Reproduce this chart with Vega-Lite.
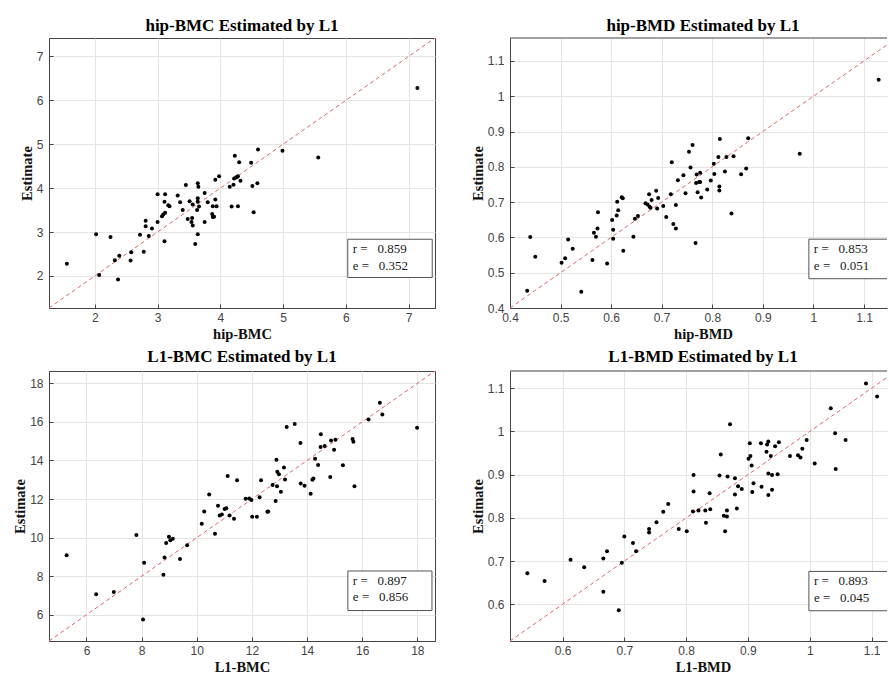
{
  "$schema": "https://vega.github.io/schema/vega-lite/v6.json",
  "padding": {"left": 12, "top": 16, "right": 0, "bottom": 0},
  "columns": 2,
  "spacing": {"column": 34, "row": 6},
  "datasets": {
    "hipBMC": [
      {"x":1.555,"y":2.28},{"x":2.02,"y":2.95},{"x":2.07,"y":2.02},{"x":2.25,"y":2.89},{"x":2.32,"y":2.36},{"x":2.39,"y":2.46},{"x":2.37,"y":1.92},{"x":2.58,"y":2.54},{"x":2.57,"y":2.35},{"x":2.72,"y":2.94},
      {"x":2.78,"y":2.55},{"x":2.81,"y":3.26},{"x":2.81,"y":3.13},{"x":2.86,"y":2.91},{"x":2.91,"y":3.08},{"x":3.0,"y":3.86},{"x":3.0,"y":3.23},{"x":3.07,"y":3.36},{"x":3.09,"y":3.4},{"x":3.11,"y":2.79},
      {"x":3.11,"y":3.69},{"x":3.12,"y":3.86},{"x":3.12,"y":3.44},{"x":3.17,"y":3.61},{"x":3.19,"y":3.59},{"x":3.32,"y":3.83},{"x":3.36,"y":3.68},{"x":3.4,"y":3.5},{"x":3.45,"y":4.07},{"x":3.48,"y":3.3},
      {"x":3.51,"y":3.7},{"x":3.54,"y":3.23},{"x":3.55,"y":3.32},{"x":3.56,"y":3.15},{"x":3.56,"y":3.63},{"x":3.6,"y":2.73},{"x":3.63,"y":3.5},{"x":3.64,"y":4.11},{"x":3.64,"y":3.77},{"x":3.64,"y":3.69},
      {"x":3.64,"y":2.95},{"x":3.65,"y":4.03},{"x":3.66,"y":3.58},{"x":3.75,"y":3.89},{"x":3.75,"y":3.23},{"x":3.8,"y":3.68},{"x":3.87,"y":3.41},{"x":3.88,"y":3.34},{"x":3.88,"y":3.59},{"x":3.9,"y":3.35},
      {"x":3.92,"y":3.74},{"x":3.92,"y":4.19},{"x":3.94,"y":3.59},{"x":3.98,"y":4.27},{"x":4.15,"y":4.03},{"x":4.18,"y":3.58},{"x":4.21,"y":4.08},{"x":4.22,"y":4.22},{"x":4.23,"y":4.74},{"x":4.25,"y":4.24},
      {"x":4.27,"y":4.26},{"x":4.28,"y":4.27},{"x":4.28,"y":3.59},{"x":4.3,"y":4.59},{"x":4.32,"y":4.17},{"x":4.49,"y":4.58},{"x":4.51,"y":4.05},{"x":4.53,"y":3.45},{"x":4.59,"y":4.11},{"x":4.6,"y":4.88},
      {"x":4.99,"y":4.85},{"x":5.56,"y":4.7},{"x":7.14,"y":6.28}
    ],
    "hipBMD": [
      {"x":0.434,"y":0.449},{"x":0.44,"y":0.601},{"x":0.45,"y":0.545},{"x":0.502,"y":0.528},{"x":0.509,"y":0.541},{"x":0.515,"y":0.594},{"x":0.524,"y":0.568},{"x":0.541,"y":0.446},{"x":0.563,"y":0.536},{"x":0.566,"y":0.613},
      {"x":0.57,"y":0.602},{"x":0.573,"y":0.625},{"x":0.574,"y":0.671},{"x":0.592,"y":0.526},{"x":0.602,"y":0.649},{"x":0.604,"y":0.622},{"x":0.604,"y":0.596},{"x":0.611,"y":0.662},{"x":0.612,"y":0.701},{"x":0.614,"y":0.677},
      {"x":0.621,"y":0.714},{"x":0.623,"y":0.711},{"x":0.624,"y":0.562},{"x":0.644,"y":0.602},{"x":0.647,"y":0.653},{"x":0.653,"y":0.661},{"x":0.668,"y":0.697},{"x":0.672,"y":0.693},{"x":0.675,"y":0.722},{"x":0.676,"y":0.687},
      {"x":0.68,"y":0.706},{"x":0.678,"y":0.684},{"x":0.689,"y":0.732},{"x":0.691,"y":0.682},{"x":0.693,"y":0.712},{"x":0.703,"y":0.689},{"x":0.709,"y":0.658},{"x":0.718,"y":0.722},{"x":0.72,"y":0.813},{"x":0.723,"y":0.638},
      {"x":0.728,"y":0.625},{"x":0.728,"y":0.692},{"x":0.732,"y":0.762},{"x":0.743,"y":0.776},{"x":0.747,"y":0.725},{"x":0.754,"y":0.843},{"x":0.757,"y":0.798},{"x":0.761,"y":0.862},{"x":0.767,"y":0.584},{"x":0.768,"y":0.754},
      {"x":0.769,"y":0.778},{"x":0.771,"y":0.728},{"x":0.774,"y":0.757},{"x":0.776,"y":0.757},{"x":0.776,"y":0.783},{"x":0.778,"y":0.713},{"x":0.79,"y":0.736},{"x":0.797,"y":0.761},{"x":0.803,"y":0.809},{"x":0.804,"y":0.78},
      {"x":0.812,"y":0.828},{"x":0.814,"y":0.744},{"x":0.814,"y":0.733},{"x":0.815,"y":0.879},{"x":0.825,"y":0.787},{"x":0.828,"y":0.828},{"x":0.838,"y":0.668},{"x":0.842,"y":0.83},{"x":0.857,"y":0.779},{"x":0.867,"y":0.795},
      {"x":0.871,"y":0.881},{"x":0.973,"y":0.837},{"x":1.129,"y":1.047}
    ],
    "l1BMC": [
      {"x":5.28,"y":9.08},{"x":6.35,"y":7.07},{"x":6.99,"y":7.18},{"x":7.81,"y":10.13},{"x":8.09,"y":8.7},{"x":8.05,"y":5.76},{"x":8.79,"y":8.08},{"x":8.83,"y":8.97},{"x":8.89,"y":9.72},{"x":8.99,"y":10.05},
      {"x":9.04,"y":9.86},{"x":9.13,"y":9.94},{"x":9.39,"y":8.89},{"x":9.65,"y":9.61},{"x":10.18,"y":10.72},{"x":10.27,"y":11.36},{"x":10.45,"y":12.23},{"x":10.66,"y":10.2},{"x":10.77,"y":11.65},{"x":10.83,"y":11.15},
      {"x":10.91,"y":11.2},{"x":11.01,"y":11.48},{"x":11.07,"y":11.52},{"x":11.12,"y":13.19},{"x":11.19,"y":11.15},{"x":11.35,"y":10.98},{"x":11.46,"y":12.97},{"x":11.77,"y":12.02},{"x":11.9,"y":12.03},{"x":11.98,"y":11.95},
      {"x":12.01,"y":11.08},{"x":12.18,"y":11.08},{"x":12.28,"y":12.09},{"x":12.33,"y":12.97},{"x":12.56,"y":11.34},{"x":12.59,"y":11.36},{"x":12.75,"y":12.73},{"x":12.86,"y":11.9},{"x":12.89,"y":14.04},{"x":12.91,"y":12.67},
      {"x":12.92,"y":13.42},{"x":12.98,"y":13.28},{"x":13.05,"y":12.38},{"x":13.16,"y":13.63},{"x":13.2,"y":13.02},{"x":13.26,"y":15.74},{"x":13.55,"y":15.89},{"x":13.76,"y":14.91},{"x":13.77,"y":12.81},{"x":13.91,"y":12.69},
      {"x":14.13,"y":12.28},{"x":14.19,"y":13.0},{"x":14.23,"y":13.07},{"x":14.29,"y":14.09},{"x":14.4,"y":13.76},{"x":14.49,"y":14.7},{"x":14.5,"y":15.36},{"x":14.64,"y":14.75},{"x":14.84,"y":13.14},{"x":14.87,"y":15.04},
      {"x":14.98,"y":14.56},{"x":15.03,"y":15.08},{"x":15.3,"y":13.75},{"x":15.65,"y":15.11},{"x":15.68,"y":14.97},{"x":15.72,"y":12.67},{"x":16.23,"y":16.12},{"x":16.64,"y":17.0},{"x":16.73,"y":16.39},{"x":17.99,"y":15.7}
    ],
    "l1BMD": [
      {"x":0.543,"y":0.672},{"x":0.571,"y":0.654},{"x":0.613,"y":0.703},{"x":0.635,"y":0.686},{"x":0.666,"y":0.706},{"x":0.666,"y":0.629},{"x":0.672,"y":0.723},{"x":0.691,"y":0.586},{"x":0.696,"y":0.696},{"x":0.7,"y":0.757},
      {"x":0.714,"y":0.742},{"x":0.719,"y":0.723},{"x":0.74,"y":0.774},{"x":0.74,"y":0.766},{"x":0.752,"y":0.79},{"x":0.763,"y":0.814},{"x":0.771,"y":0.832},{"x":0.788,"y":0.774},{"x":0.801,"y":0.769},{"x":0.811,"y":0.815},
      {"x":0.812,"y":0.899},{"x":0.812,"y":0.861},{"x":0.82,"y":0.817},{"x":0.831,"y":0.817},{"x":0.832,"y":0.789},{"x":0.838,"y":0.857},{"x":0.839,"y":0.82},{"x":0.854,"y":0.898},{"x":0.856,"y":0.947},{"x":0.861,"y":0.805},
      {"x":0.863,"y":0.769},{"x":0.866,"y":0.817},{"x":0.866,"y":0.803},{"x":0.867,"y":0.896},{"x":0.871,"y":1.017},{"x":0.879,"y":0.892},{"x":0.879,"y":0.854},{"x":0.882,"y":0.822},{"x":0.884,"y":0.873},{"x":0.89,"y":0.867},
      {"x":0.901,"y":0.937},{"x":0.903,"y":0.973},{"x":0.904,"y":0.943},{"x":0.906,"y":0.921},{"x":0.907,"y":0.86},{"x":0.909,"y":0.88},{"x":0.921,"y":0.973},{"x":0.922,"y":0.872},{"x":0.93,"y":0.953},{"x":0.931,"y":0.97},
      {"x":0.933,"y":0.977},{"x":0.933,"y":0.903},{"x":0.933,"y":0.853},{"x":0.937,"y":0.943},{"x":0.939,"y":0.899},{"x":0.939,"y":0.865},{"x":0.944,"y":0.966},{"x":0.948,"y":0.901},{"x":0.95,"y":0.975},{"x":0.968,"y":0.943},
      {"x":0.981,"y":0.945},{"x":0.985,"y":0.94},{"x":0.988,"y":0.96},{"x":0.995,"y":0.98},{"x":1.008,"y":0.926},{"x":1.034,"y":1.054},{"x":1.041,"y":0.996},{"x":1.042,"y":0.913},{"x":1.058,"y":0.98},{"x":1.091,"y":1.111},
      {"x":1.109,"y":1.081}
    ],
    "diag": [
      {"p":"hipBMC","x":1.27,"y":1.27,"x2":7.42,"y2":7.42},
      {"p":"hipBMD","x":0.4,"y":0.4,"x2":1.1455,"y2":1.1455},
      {"p":"l1BMC","x":4.64,"y":4.64,"x2":18.64,"y2":18.64},
      {"p":"l1BMD","x":0.515,"y":0.515,"x2":1.125,"y2":1.125}
    ],
    "frame": [
      {"p":"hipBMD","x":0.4,"x2":1.1455,"y":1.165},
      {"p":"l1BMD","x":0.515,"x2":1.125,"y":1.14}
    ],
    "boxes": [
      {"p":"hipBMC","x":6.03,"x2":7.376,"y":2.836,"y2":1.965,"l1":"r =\u00a0\u00a0\u00a00.859","l2":"e =\u00a0\u00a0\u00a00.352"},
      {"p":"hipBMD","x":0.991,"x2":1.16,"y":0.595,"y2":0.483,"l1":"r =\u00a0\u00a0\u00a00.853","l2":"e =\u00a0\u00a0\u00a00.051"},
      {"p":"l1BMC","x":15.48,"x2":18.53,"y":8.27,"y2":6.22,"l1":"r =\u00a0\u00a0\u00a00.897","l2":"e =\u00a0\u00a0\u00a00.856"},
      {"p":"l1BMD","x":0.9986,"x2":1.15,"y":0.676,"y2":0.585,"l1":"r =\u00a0\u00a0\u00a00.893","l2":"e =\u00a0\u00a0\u00a00.045"}
    ]
  },
  "concat": [
    {
      "width": 386, "height": 270,
      "title": {"text": "hip-BMC Estimated by L1"},
      "layer": [
        {"data": {"name": "diag"}, "transform": [{"filter": "datum.p == 'hipBMC'"}],
         "mark": {"type": "rule", "color": "#e06666", "strokeDash": [4, 3], "strokeWidth": 1},
         "encoding": {
           "x": {"field": "x", "type": "quantitative", "title": "hip-BMC", "scale": {"domain": [1.27, 7.42], "nice": false, "zero": false}, "axis": {"values": [2, 3, 4, 5, 6, 7], "tickCount": 6}},
           "y": {"field": "y", "type": "quantitative", "title": "Estimate", "scale": {"domain": [1.27, 7.42], "nice": false, "zero": false}, "axis": {"values": [2, 3, 4, 5, 6, 7], "tickCount": 6}},
           "x2": {"field": "x2"}, "y2": {"field": "y2"}}},
        {"data": {"name": "hipBMC"}, "mark": {"type": "circle", "size": 16, "color": "#000", "opacity": 1},
         "encoding": {"x": {"field": "x", "type": "quantitative"}, "y": {"field": "y", "type": "quantitative"}}},
        {"data": {"name": "boxes"}, "transform": [{"filter": "datum.p == 'hipBMC'"}],
         "mark": {"type": "rect", "fill": "#fff", "stroke": "#555", "strokeWidth": 1, "clip": true},
         "encoding": {"x": {"field": "x", "type": "quantitative"}, "x2": {"field": "x2"}, "y": {"field": "y", "type": "quantitative"}, "y2": {"field": "y2"}}},
        {"data": {"name": "boxes"}, "transform": [{"filter": "datum.p == 'hipBMC'"}],
         "mark": {"type": "text", "align": "left", "baseline": "middle", "dx": 5, "dy": 10, "font": "Liberation Serif", "fontSize": 13, "color": "#1a1a1a"},
         "encoding": {"x": {"field": "x", "type": "quantitative"}, "y": {"field": "y", "type": "quantitative"}, "text": {"field": "l1"}}},
        {"data": {"name": "boxes"}, "transform": [{"filter": "datum.p == 'hipBMC'"}],
         "mark": {"type": "text", "align": "left", "baseline": "middle", "dx": 5, "dy": 26.5, "font": "Liberation Serif", "fontSize": 13, "color": "#1a1a1a"},
         "encoding": {"x": {"field": "x", "type": "quantitative"}, "y": {"field": "y", "type": "quantitative"}, "text": {"field": "l2"}}}
      ]
    },
    {
      "width": 377, "height": 270,
      "view": {"stroke": null},
      "title": {"text": "hip-BMD Estimated by L1", "dx": 4.5},
      "layer": [
        {"data": {"name": "diag"}, "transform": [{"filter": "datum.p == 'hipBMD'"}],
         "mark": {"type": "rule", "color": "#e06666", "strokeDash": [4, 3], "strokeWidth": 1},
         "encoding": {
           "x": {"field": "x", "type": "quantitative", "title": "hip-BMD", "scale": {"domain": [0.4, 1.1455], "nice": false, "zero": false}, "axis": {"values": [0.4, 0.5, 0.6, 0.7, 0.8, 0.9, 1, 1.1], "tickCount": 8, "titleX": 193}},
           "y": {"field": "y", "type": "quantitative", "title": "Estimate", "scale": {"domain": [0.4, 1.165], "nice": false, "zero": false}, "axis": {"values": [0.4, 0.5, 0.6, 0.7, 0.8, 0.9, 1, 1.1], "tickCount": 8}},
           "x2": {"field": "x2"}, "y2": {"field": "y2"}}},
        {"data": {"name": "frame"}, "transform": [{"filter": "datum.p == 'hipBMD'"}],
         "mark": {"type": "rule", "color": "#444", "strokeWidth": 1},
         "encoding": {"x": {"field": "x", "type": "quantitative"}, "x2": {"field": "x2"}, "y": {"field": "y", "type": "quantitative"}}},
        {"data": {"name": "hipBMD"}, "mark": {"type": "circle", "size": 16, "color": "#000", "opacity": 1},
         "encoding": {"x": {"field": "x", "type": "quantitative"}, "y": {"field": "y", "type": "quantitative"}}},
        {"data": {"name": "boxes"}, "transform": [{"filter": "datum.p == 'hipBMD'"}],
         "mark": {"type": "rect", "fill": "#fff", "stroke": "#555", "strokeWidth": 1, "clip": true},
         "encoding": {"x": {"field": "x", "type": "quantitative"}, "x2": {"field": "x2"}, "y": {"field": "y", "type": "quantitative"}, "y2": {"field": "y2"}}},
        {"data": {"name": "boxes"}, "transform": [{"filter": "datum.p == 'hipBMD'"}],
         "mark": {"type": "text", "align": "left", "baseline": "middle", "dx": 5, "dy": 10, "font": "Liberation Serif", "fontSize": 13, "color": "#1a1a1a"},
         "encoding": {"x": {"field": "x", "type": "quantitative"}, "y": {"field": "y", "type": "quantitative"}, "text": {"field": "l1"}}},
        {"data": {"name": "boxes"}, "transform": [{"filter": "datum.p == 'hipBMD'"}],
         "mark": {"type": "text", "align": "left", "baseline": "middle", "dx": 5, "dy": 26.5, "font": "Liberation Serif", "fontSize": 13, "color": "#1a1a1a"},
         "encoding": {"x": {"field": "x", "type": "quantitative"}, "y": {"field": "y", "type": "quantitative"}, "text": {"field": "l2"}}}
      ]
    },
    {
      "width": 386, "height": 270,
      "title": {"text": "L1-BMC Estimated by L1", "offset": 4.5},
      "layer": [
        {"data": {"name": "diag"}, "transform": [{"filter": "datum.p == 'l1BMC'"}],
         "mark": {"type": "rule", "color": "#e06666", "strokeDash": [4, 3], "strokeWidth": 1},
         "encoding": {
           "x": {"field": "x", "type": "quantitative", "title": "L1-BMC", "scale": {"domain": [4.64, 18.64], "nice": false, "zero": false}, "axis": {"values": [6, 8, 10, 12, 14, 16, 18], "tickCount": 7}},
           "y": {"field": "y", "type": "quantitative", "title": "Estimate", "scale": {"domain": [4.64, 18.64], "nice": false, "zero": false}, "axis": {"values": [6, 8, 10, 12, 14, 16, 18], "tickCount": 7}},
           "x2": {"field": "x2"}, "y2": {"field": "y2"}}},
        {"data": {"name": "l1BMC"}, "mark": {"type": "circle", "size": 16, "color": "#000", "opacity": 1},
         "encoding": {"x": {"field": "x", "type": "quantitative"}, "y": {"field": "y", "type": "quantitative"}}},
        {"data": {"name": "boxes"}, "transform": [{"filter": "datum.p == 'l1BMC'"}],
         "mark": {"type": "rect", "fill": "#fff", "stroke": "#555", "strokeWidth": 1, "clip": true},
         "encoding": {"x": {"field": "x", "type": "quantitative"}, "x2": {"field": "x2"}, "y": {"field": "y", "type": "quantitative"}, "y2": {"field": "y2"}}},
        {"data": {"name": "boxes"}, "transform": [{"filter": "datum.p == 'l1BMC'"}],
         "mark": {"type": "text", "align": "left", "baseline": "middle", "dx": 5, "dy": 10, "font": "Liberation Serif", "fontSize": 13, "color": "#1a1a1a"},
         "encoding": {"x": {"field": "x", "type": "quantitative"}, "y": {"field": "y", "type": "quantitative"}, "text": {"field": "l1"}}},
        {"data": {"name": "boxes"}, "transform": [{"filter": "datum.p == 'l1BMC'"}],
         "mark": {"type": "text", "align": "left", "baseline": "middle", "dx": 5, "dy": 26.5, "font": "Liberation Serif", "fontSize": 13, "color": "#1a1a1a"},
         "encoding": {"x": {"field": "x", "type": "quantitative"}, "y": {"field": "y", "type": "quantitative"}, "text": {"field": "l2"}}}
      ]
    },
    {
      "width": 377, "height": 270,
      "view": {"stroke": null},
      "title": {"text": "L1-BMD Estimated by L1", "dx": 4.5, "offset": 4.5},
      "layer": [
        {"data": {"name": "diag"}, "transform": [{"filter": "datum.p == 'l1BMD'"}],
         "mark": {"type": "rule", "color": "#e06666", "strokeDash": [4, 3], "strokeWidth": 1},
         "encoding": {
           "x": {"field": "x", "type": "quantitative", "title": "L1-BMD", "scale": {"domain": [0.515, 1.125], "nice": false, "zero": false}, "axis": {"values": [0.6, 0.7, 0.8, 0.9, 1, 1.1], "tickCount": 6, "titleX": 193}},
           "y": {"field": "y", "type": "quantitative", "title": "Estimate", "scale": {"domain": [0.515, 1.14], "nice": false, "zero": false}, "axis": {"values": [0.6, 0.7, 0.8, 0.9, 1, 1.1], "tickCount": 6}},
           "x2": {"field": "x2"}, "y2": {"field": "y2"}}},
        {"data": {"name": "frame"}, "transform": [{"filter": "datum.p == 'l1BMD'"}],
         "mark": {"type": "rule", "color": "#444", "strokeWidth": 1},
         "encoding": {"x": {"field": "x", "type": "quantitative"}, "x2": {"field": "x2"}, "y": {"field": "y", "type": "quantitative"}}},
        {"data": {"name": "l1BMD"}, "mark": {"type": "circle", "size": 16, "color": "#000", "opacity": 1},
         "encoding": {"x": {"field": "x", "type": "quantitative"}, "y": {"field": "y", "type": "quantitative"}}},
        {"data": {"name": "boxes"}, "transform": [{"filter": "datum.p == 'l1BMD'"}],
         "mark": {"type": "rect", "fill": "#fff", "stroke": "#555", "strokeWidth": 1, "clip": true},
         "encoding": {"x": {"field": "x", "type": "quantitative"}, "x2": {"field": "x2"}, "y": {"field": "y", "type": "quantitative"}, "y2": {"field": "y2"}}},
        {"data": {"name": "boxes"}, "transform": [{"filter": "datum.p == 'l1BMD'"}],
         "mark": {"type": "text", "align": "left", "baseline": "middle", "dx": 5, "dy": 10, "font": "Liberation Serif", "fontSize": 13, "color": "#1a1a1a"},
         "encoding": {"x": {"field": "x", "type": "quantitative"}, "y": {"field": "y", "type": "quantitative"}, "text": {"field": "l1"}}},
        {"data": {"name": "boxes"}, "transform": [{"filter": "datum.p == 'l1BMD'"}],
         "mark": {"type": "text", "align": "left", "baseline": "middle", "dx": 5, "dy": 26.5, "font": "Liberation Serif", "fontSize": 13, "color": "#1a1a1a"},
         "encoding": {"x": {"field": "x", "type": "quantitative"}, "y": {"field": "y", "type": "quantitative"}, "text": {"field": "l2"}}}
      ]
    }
  ],
  "config": {
    "view": {"stroke": "#444", "strokeWidth": 1},
    "title": {"font": "Liberation Serif", "fontSize": 17, "fontWeight": "bold", "color": "#000", "anchor": "middle", "baseline": "alphabetic", "offset": 3, "frame": "group"},
    "axis": {
      "labelFont": "Liberation Sans", "labelFontSize": 12, "labelColor": "#444", "labelOverlap": false, "labelFlush": false,
      "titleFont": "Liberation Serif", "titleFontSize": 14.5, "titleFontWeight": "bold", "titleColor": "#111",
      "gridColor": "#e4e4e4", "gridWidth": 1, "domainColor": "#444", "domainWidth": 1,
      "ticks": true, "tickColor": "#444", "tickSize": -4, "format": "~g"
    },
    "axisX": {"titlePadding": 4, "labelPadding": 8},
    "axisY": {"titlePadding": 2, "labelPadding": 10}
  }
}
